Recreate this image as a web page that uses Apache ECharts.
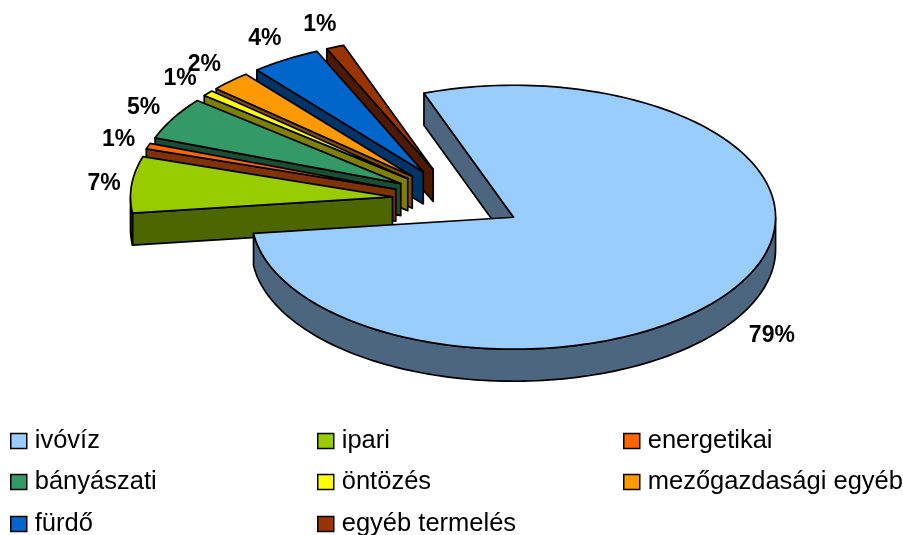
<!DOCTYPE html>
<html>
<head>
<meta charset="utf-8">
<style>html,body{margin:0;padding:0;background:#fff}#c{width:903px;height:535px}</style>
<script src="https://cdn.jsdelivr.net/npm/echarts@6/dist/echarts.min.js"></script>
</head>
<body>
<div id="c"></div>
<script>
const categories = ['ivóvíz','ipari','energetikai','bányászati','öntözés','mezőgazdasági egyéb','fürdő','egyéb termelés'];
const values = [78.6, 6.9, 0.7, 5.2, 0.7, 2.5, 4.3, 1.1];
const percentLabels = ['79%','7%','1%','5%','1%','2%','4%','1%'];
const topColors = ['#99CCFF','#99CC00','#FF6600','#339966','#FFFF00','#FF9900','#0066CC','#993300'];
const sideColors = ['#4D6680','#4D6600','#803300','#1A4D33','#808000','#804D00','#003366','#4D1A00'];

const CX = 457.7, CY = 200, RX = 262, RY = 132, DEPTH = 32, EXPLODE = 0.25, START = -20;
const total = values.reduce((a, b) => a + b, 0);
const slices = [];
let acc = START;
values.forEach(v => { const sweep = v / total * 360; slices.push({a0: acc, a1: acc + sweep}); acc += sweep; });

function ell(cx, cy, deg, k) {
  const r = deg * Math.PI / 180;
  return [cx + RX * k * Math.sin(r), cy - RY * k * Math.cos(r)];
}
function renderSlice(i) {
  const {a0, a1} = slices[i];
  const mid = (a0 + a1) / 2;
  const [ax, ay] = ell(CX, CY, mid, EXPLODE);
  const arc = (from, to, dy) => {
    const n = Math.max(2, Math.ceil(Math.abs(to - from) / 1.5));
    const pts = [];
    for (let j = 0; j <= n; j++) {
      const p = ell(ax, ay, from + (to - from) * j / n, 1);
      pts.push([p[0], p[1] + dy]);
    }
    return pts;
  };
  const stroke = {stroke: '#000', lineWidth: 1.7, lineJoin: 'round'};
  const poly = (points, fill) => ({type: 'polygon', shape: {points}, style: {fill, ...stroke}});
  const children = [];
  const side = sideColors[i];
  const rimA = ell(ax, ay, a0, 1);
  children.push(poly([[ax, ay], rimA, [rimA[0], rimA[1] + DEPTH], [ax, ay + DEPTH]], side));
  const from = Math.max(a0, 90), to = Math.min(a1, 270);
  if (to > from) {
    children.push(poly(arc(from, to, 0).concat(arc(from, to, DEPTH).reverse()), side));
  }
  children.push(poly([[ax, ay]].concat(arc(a0, a1, 0)), topColors[i]));
  const front = mid > 90 && mid < 270;
  const kx = front ? 1.156 : 1.1 + 0.06 * Math.abs(Math.cos(mid * Math.PI / 180));
  const lx = ell(ax, ay, mid, kx)[0];
  const ly = ell(ax, ay, mid, 1.2)[1] + (front ? 36 : 2);
  children.push({type: 'text', z2: 10, style: {
    text: percentLabels[i], x: lx, y: ly,
    align: 'center', verticalAlign: 'middle',
    font: 'bold 23px "Liberation Sans", Arial, sans-serif', fill: '#000'
  }});
  return {type: 'group', children};
}

const chart = echarts.init(document.getElementById('c'), null, {renderer: 'canvas'});
const legendLeft = [5, 312, 618];
const legendTop = [422, 463, 505];
const legendCol = [0, 1, 2, 0, 1, 2, 0, 1];
const legendRow = [0, 0, 0, 1, 1, 1, 2, 2];
const series = categories.map((name, i) => ({
  type: 'custom', name, coordinateSystem: 'none', silent: true,
  z: 10 + categories.length - i,
  itemStyle: {color: topColors[i], borderColor: '#000', borderWidth: 1.5},
  data: [[values[i]]],
  renderItem: () => renderSlice(i)
}));
chart.setOption({
  animation: false,
  backgroundColor: '#fff',
  legend: categories.map((name, i) => ({
    orient: 'vertical', left: legendLeft[legendCol[i]], top: legendTop[legendRow[i]],
    itemWidth: 16, itemHeight: 15, icon: 'rect', selectedMode: false, itemGap: 0,
    textStyle: {fontFamily: '"Liberation Sans", Arial, sans-serif', fontSize: 25.5, color: '#000', lineHeight: 28, padding: [0, 0, 0, 3]},
    data: [{name, itemStyle: {color: topColors[i], borderColor: '#000', borderWidth: 1.5}}]
  })),
  series
});
</script>
</body>
</html>
